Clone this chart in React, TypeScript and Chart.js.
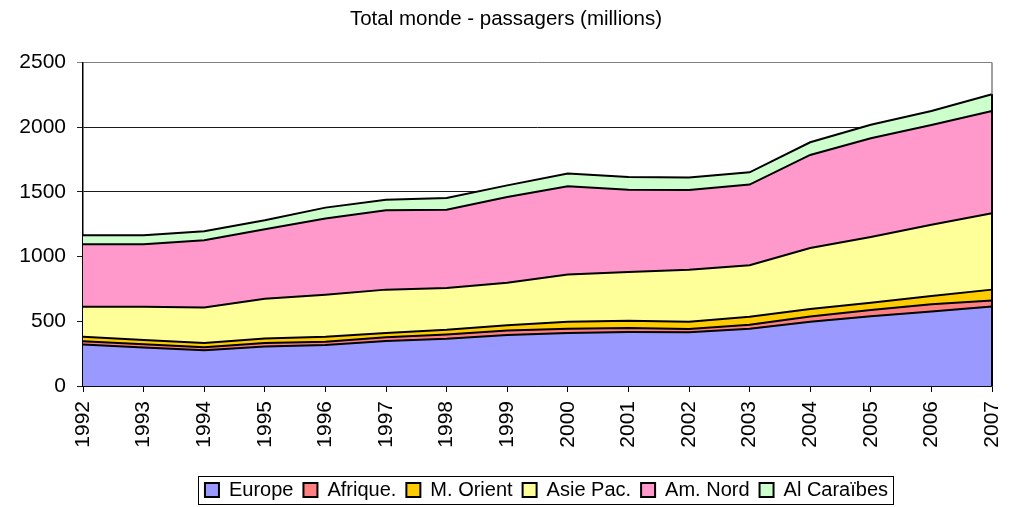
import React, { useEffect, useRef } from "react";
import { Chart, registerables } from "chart.js";

Chart.register(...registerables);

const years = ["1992","1993","1994","1995","1996","1997","1998","1999","2000","2001","2002","2003","2004","2005","2006","2007"];
const europe = [320,298,276,305,317,347,365,395,410,418,416,443,496,540,576,615];
const afrique = [25,24,24,27,26,30,33,34,33,30,25,30,41,48,56,45];
const moyenOrient = [35,33,33,36,37,33,36,40,54,56,56,62,58,56,64,85];
const asiePac = [233,258,273,307,326,335,324,330,364,377,402,398,472,508,551,590];
const amNord = [482,482,520,536,588,613,605,662,683,637,616,624,719,763,771,791];
const caraibes = [70,70,70,70,85,82,90,90,98,98,96,95,98,105,108,129];
const yTicks = [0, 500, 1000, 1500, 2000, 2500];

const FONT = "'Liberation Sans', Arial, sans-serif";

const seriesDefs = [
  { label: "Europe", data: europe, color: "#9999FF" },
  { label: "Afrique.", data: afrique, color: "#FF8080" },
  { label: "M. Orient", data: moyenOrient, color: "#FFCC00" },
  { label: "Asie Pac.", data: asiePac, color: "#FFFF99" },
  { label: "Am. Nord", data: amNord, color: "#FF99CC" },
  { label: "Al Caraïbes", data: caraibes, color: "#CCFFCC" },
];

const framePlugin = {
  id: "frame",
  afterLayout(chart: any) {
    const lg = chart.legend;
    if (lg) {
      lg.left += 9;
      lg.right += 9;
      lg.top += 3;
      lg.bottom += 3;
    }
  },
  afterDatasetsDraw(chart: any) {
    const { ctx, chartArea, scales } = chart;
    ctx.save();
    ctx.strokeStyle = "#808080";
    ctx.lineWidth = 1.5;
    ctx.beginPath();
    ctx.moveTo(chartArea.right, chartArea.top);
    ctx.lineTo(chartArea.right, chartArea.bottom);
    ctx.stroke();
    const last = years.length - 1;
    const total = seriesDefs.reduce((s, d) => s + d.data[last], 0);
    const x = scales.x.getPixelForValue(last);
    ctx.strokeStyle = "#000";
    ctx.lineWidth = 2;
    ctx.beginPath();
    ctx.moveTo(x, scales.y.getPixelForValue(0));
    ctx.lineTo(x, scales.y.getPixelForValue(total));
    ctx.stroke();
    ctx.restore();
  },
  afterDraw(chart: any) {
    const lg = chart.legend;
    if (!lg || !lg.legendHitBoxes || !lg.legendHitBoxes.length) return;
    const hb = lg.legendHitBoxes;
    let l = Infinity, r = -Infinity, t = Infinity, b = -Infinity;
    hb.forEach((h: any) => {
      l = Math.min(l, h.left);
      r = Math.max(r, h.left + h.width);
      t = Math.min(t, h.top);
      b = Math.max(b, h.top + h.height);
    });
    const ctx = chart.ctx;
    ctx.save();
    ctx.strokeStyle = "#000";
    ctx.lineWidth = 1;
    ctx.strokeRect(Math.round(l - 7) + 0.5, Math.round(t - 4) + 0.5, Math.round(r - l + 12), Math.round(b - t + 8));
    ctx.restore();
  },
};

export default function App() {
  const ref = useRef<HTMLCanvasElement | null>(null);
  useEffect(() => {
    document.body.style.margin = "0";
    const canvas = ref.current;
    if (!canvas) return;
    const chart = new Chart(canvas, {
      type: "line",
      data: {
        labels: years,
        datasets: seriesDefs.map((s, i) => ({
          label: s.label,
          data: s.data,
          backgroundColor: s.color,
          borderColor: "#000",
          borderWidth: 2,
          fill: i === 0 ? "origin" : "-1",
          pointRadius: 0,
          tension: 0,
        })),
      },
      options: {
        animation: false,
        responsive: false,
        devicePixelRatio: 1,
        layout: { padding: { left: 20, right: 26, top: 0, bottom: 0 } },
        plugins: {
          title: {
            display: true,
            text: "Total monde - passagers (millions)",
            color: "#000",
            font: { family: FONT, size: 20.5, weight: "normal" },
            padding: { top: 7, bottom: 31 },
          },
          legend: {
            position: "bottom",
            fullSize: false,
            labels: {
              color: "#000",
              font: { family: FONT, size: 20 },
              boxWidth: 14,
              boxHeight: 14,
              padding: 10,
            },
          },
          tooltip: { enabled: false },
        },
        scales: {
          x: {
            offset: false,
            grid: { drawOnChartArea: false, drawTicks: true, tickLength: 6, color: "#000", lineWidth: 1 },
            border: { color: "#000", width: 1.5 },
            ticks: {
              color: "#000",
              font: { family: FONT, size: 21 },
              minRotation: 90,
              maxRotation: 90,
              padding: 9,
              autoSkip: false,
            },
            afterFit: (scale: any) => {
              scale.height = 81;
              scale.paddingLeft = 0;
              scale.paddingRight = 0;
            },
          },
          y: {
            stacked: true,
            min: 0,
            max: 2500,
            afterBuildTicks: (scale: any) => { scale.ticks = yTicks.map((v) => ({ value: v })); },
            grid: {
              color: (c: any) => (c.tick && c.tick.value === 2500 ? "#808080" : "#1a1a1a"),
              lineWidth: 1,
              drawTicks: true,
              tickLength: 6,
            },
            border: { color: "#000", width: 1.5 },
            ticks: {
              color: "#000",
              font: { family: FONT, size: 21 },
              padding: 11,
              callback: (v: any) => String(v),
            },
            afterFit: (scale: any) => { scale.width = 63; },
          },
        },
      },
      plugins: [framePlugin],
    });
    return () => chart.destroy();
  }, []);
  return <canvas ref={ref} width={1018} height={507} style={{ display: "block" }} />;
}
